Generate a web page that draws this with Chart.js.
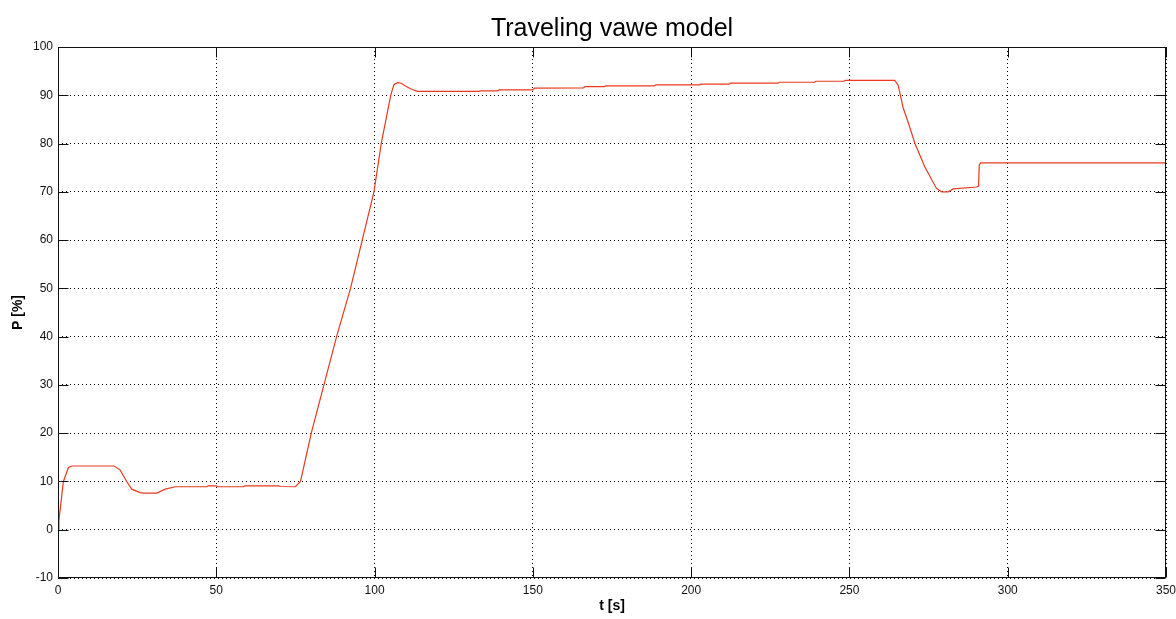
<!DOCTYPE html>
<html>
<head>
<meta charset="utf-8">
<title>Traveling vawe model</title>
<script src="https://cdn.jsdelivr.net/npm/chart.js@4.4.1/dist/chart.umd.min.js"></script>
<style>
  html, body { margin: 0; padding: 0; background: #fff; }
  #wrap { width: 1176px; height: 619px; }
</style>
</head>
<body>
<div id="wrap"><canvas id="myChart" width="1176" height="619"></canvas></div>
<script>
/* data */
const timeS = [
  0, 0.3, 1.7, 3.3, 4.5, 17.7, 19.6, 21.7, 23.3, 25.9, 27, 31.2, 33.9, 37,
  47, 47.5, 50, 50.5, 58.6, 59, 69.7, 70.2, 75, 76.6,
  80, 84, 88, 92.4, 96.1, 99.8, 102.1, 105.1, 106.1, 107.2, 108.4, 110, 111.9, 113.5,
  133, 133.5, 138.8, 139.3, 150, 150.5, 166, 166.5, 172.6, 173, 188.4, 188.8,
  202.6, 203, 212, 212.4, 227.4, 227.8, 239, 239.4, 248.3, 248.7, 264.3,
  265.4, 267, 268, 270.7, 273.8, 277.5, 279.1, 281.2, 282.8, 290.2, 290.8, 291.0, 291.4, 350
];
const powerPct = [
  0, 2, 10, 12.9, 13.2, 13.2, 12.4, 10, 8.4, 7.7, 7.6, 7.6, 8.4, 8.9,
  8.9, 9.1, 9.1, 8.9, 8.9, 9.1, 9.1, 8.95, 8.9, 10,
  20, 30, 40, 50, 60, 70, 80, 90, 92.2, 92.6, 92.5, 91.8, 91.2, 90.8,
  90.8, 90.9, 90.9, 91.1, 91.1, 91.5, 91.55, 91.8, 91.8, 91.95, 91.95, 92.15,
  92.15, 92.3, 92.3, 92.5, 92.5, 92.7, 92.7, 92.9, 92.9, 93.1, 93.1,
  92.1, 87.3, 85.5, 80, 75.2, 70.7, 70, 70, 70.6, 71, 71.2, 75.5, 76, 76
];
const xTicks = [0, 50, 100, 150, 200, 250, 300, 350];
const yTicks = [-10, 0, 10, 20, 30, 40, 50, 60, 70, 80, 90, 100];

const fontName = "'Liberation Sans', Arial, Helvetica, sans-serif";

/* matlab style box + inner ticks */
const boxPlugin = {
  id: 'matlabBox',
  afterDraw(chart) {
    const c = chart.ctx;
    const a = chart.chartArea;
    const xs = chart.scales.x, ys = chart.scales.y;
    const L = Math.round(a.left) + 0.5, R = Math.round(a.right) - 0.5;
    const T = Math.round(a.top) + 0.5, B = Math.round(a.bottom) - 0.5;
    c.save();
    c.strokeStyle = '#111';
    c.lineWidth = 1;
    c.strokeRect(L, T, R - L, B - T);
    c.beginPath();
    xTicks.forEach(v => {
      const px = Math.round(xs.getPixelForValue(v)) + 0.5;
      c.moveTo(px, B); c.lineTo(px, B - 10);
      c.moveTo(px, T); c.lineTo(px, T + 10);
    });
    yTicks.forEach(v => {
      const py = Math.round(ys.getPixelForValue(v)) + 0.5;
      c.moveTo(L, py); c.lineTo(L + 10, py);
      c.moveTo(R, py); c.lineTo(R - 10, py);
    });
    c.stroke();
    c.restore();
  }
};

const ctx = document.getElementById('myChart');

const myChart = new Chart(ctx, {
  type: 'line',
  data: {
    datasets: [{
      label: 'P',
      data: timeS.map((t, i) => ({ x: t, y: powerPct[i] })),
      borderColor: 'rgb(232, 58, 28)',
      borderWidth: 1.2,
      pointRadius: 0,
      tension: 0,
      fill: false
    }]
  },
  options: {
    responsive: false,
    animation: false,
    layout: { padding: { left: 0, right: 10, top: 0, bottom: 0 } },
    plugins: {
      legend: { display: false },
      tooltip: { enabled: false },
      title: {
        display: true,
        fullSize: false,
        text: 'Traveling vawe model',
        color: '#000',
        font: { family: fontName, size: 25, weight: 'normal' },
        padding: { top: 14, bottom: 3 }
      }
    },
    scales: {
      x: {
        type: 'linear',
        min: 0,
        max: 350,
        afterBuildTicks: s => { s.ticks = xTicks.map(v => ({ value: v })); },
        afterFit: s => { s.height = 41; s.paddingRight = 0; s.paddingLeft = 0; },
        grid: { color: '#000', lineWidth: 1, drawTicks: false },
        border: { display: false, dash: [1, 3] },
        ticks: { color: '#111', padding: 5, font: { family: fontName, size: 12 }, maxRotation: 0 },
        title: {
          display: true,
          text: 't [s]',
          color: '#000',
          font: { family: fontName, size: 14, weight: 'bold' },
          padding: { top: 0, bottom: 4.5 }
        }
      },
      y: {
        min: -10,
        max: 100,
        afterBuildTicks: s => { s.ticks = yTicks.map(v => ({ value: v })); },
        afterFit: s => { s.width = 58; },
        grid: { color: '#000', lineWidth: 1, drawTicks: false },
        border: { display: false, dash: [1, 3] },
        ticks: { color: '#111', padding: 5, font: { family: fontName, size: 12 } },
        title: {
          display: true,
          text: 'P [%]',
          color: '#000',
          font: { family: fontName, size: 14, weight: 'bold' },
          padding: { top: 10, bottom: 0 }
        }
      }
    }
  },
  plugins: [boxPlugin]
});
</script>
</body>
</html>
